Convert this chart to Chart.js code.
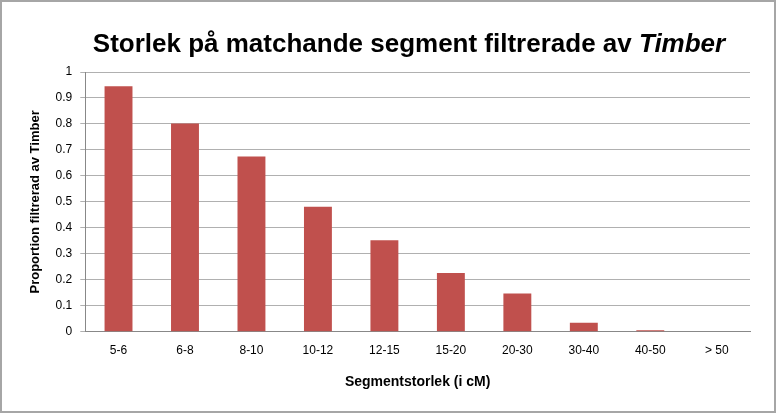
<!DOCTYPE html>
<html><head><meta charset="utf-8">
<script src="https://cdn.jsdelivr.net/npm/chart.js@4"></script>
<style>html,body{margin:0;padding:0;background:#fff}
#wrap{position:absolute;left:0;top:0;width:772px;height:409px;border:2px solid #a6a6a6;}
</style></head><body>
<div id="wrap"><canvas id="c" width="772" height="409"></canvas></div>
<script>
const categories=["5-6","6-8","8-10","10-12","12-15","15-20","20-30","30-40","40-50","> 50"];
const values=[0.945,0.802,0.675,0.481,0.352,0.226,0.147,0.035,0.006,0.002];
const yTicks=[0,0.1,0.2,0.3,0.4,0.5,0.6,0.7,0.8,0.9,1];
const titlePlugin={id:'t',afterDraw(ch){const c=ch.ctx;c.save();c.fillStyle='#000';c.textBaseline='middle';
const a='Storlek på matchande segment filtrerade av ',b='Timber';
const f='bold 26px Arial, "Liberation Sans"',fi='italic bold 26px Arial, "Liberation Sans"';
c.font=f;const wa=c.measureText(a).width;c.font=fi;const wb=c.measureText(b).width;
let x=407-(wa+wb)/2;c.font=f;c.fillText(a,x,43);c.font=fi;c.fillText(b,x+wa,43);c.restore();}};
new Chart(document.getElementById('c'),{type:'bar',
data:{labels:categories,datasets:[{data:values,backgroundColor:'#C0504D',barPercentage:0.42,categoryPercentage:1}]},
options:{responsive:false,animation:false,devicePixelRatio:1,
layout:{padding:{top:70,right:24,left:22,bottom:16}},
plugins:{legend:{display:false},tooltip:{enabled:false}},
scales:{
x:{grid:{display:false,drawTicks:false},border:{color:'#888'},ticks:{color:'#000',font:{family:'Arial, "Liberation Sans"',size:12},padding:12},
title:{display:true,text:'Segmentstorlek (i cM)',color:'#000',font:{family:'Arial, "Liberation Sans"',size:14,weight:'bold'},padding:{top:4}}},
y:{min:0,max:1,afterBuildTicks(s){s.ticks=yTicks.map(v=>({value:v}));},
grid:{color:'#b0b0b0',drawTicks:true,tickLength:5},border:{color:'#888'},
ticks:{color:'#000',font:{family:'Arial, "Liberation Sans"',size:12},padding:8,callback:v=>String(v)},
title:{display:true,text:'Proportion filtrerad av Timber',color:'#000',font:{family:'Arial, "Liberation Sans"',size:13,weight:'bold'},padding:{bottom:4}}}}},
plugins:[titlePlugin]});
</script></body></html>
